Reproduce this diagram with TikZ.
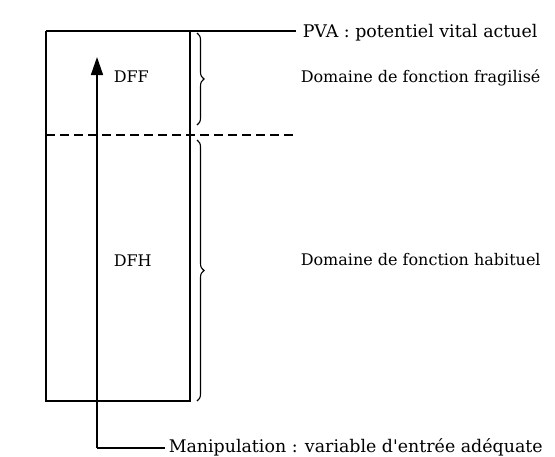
\documentclass[tikz,border=0pt]{standalone}
\usepackage{fontspec}
\setmainfont{DejaVu Serif}
\usetikzlibrary{decorations.pathreplacing,arrows.meta}
\begin{document}
\begin{tikzpicture}[x=1pt,y=-1pt,
  line width=1.5pt,
  lbl/.style={font=\fontsize{17.4}{20}\selectfont, inner sep=0pt, anchor=base west},
  dom/.style={font=\fontsize{16}{19}\selectfont, inner sep=0pt, anchor=base west},
  bracebar/.style={line width=1.1pt, decorate, decoration={brace, amplitude=7pt}},
  sep/.style={line width=1.3pt, dash pattern=on 9pt off 5pt}]
\useasboundingbox (0,0) rectangle (555,456);

% the column: vital potential
\coordinate (tl) at (46,31);
\coordinate (tr) at (190,31);
\coordinate (br) at (190,401);
\coordinate (bl) at (46,401);
\draw (tl) -- (bl) -- (br) -- (tr);

% labels on the right
\node[lbl] (pva) at (302,37) {PVA : potentiel vital actuel};
\node[dom] (dff) at (300,82) {Domaine de fonction fragilisé};
\node[dom] (dfh) at (300,265) {Domaine de fonction habituel};
\node[lbl] (man) at (168,452) {Manipulation : variable d\textquotesingle entrée adéquate};

\node[dom] (ff) at (113,82) {DFF};
\node[dom] (fh) at (113,266) {DFH};

% top line running out to the PVA label
\draw (tl) -- (296,31) coordinate (pvaend);

% boundary between the two domains
\coordinate (dl) at (46,135);
\coordinate (dr) at (296,135);
\draw[sep] (dl) -- (dr);

% braces
\coordinate (b1t) at (197,33);
\coordinate (b1b) at (197,125);
\coordinate (b2t) at (197,140);
\coordinate (b2b) at (197,401);
\draw[bracebar] (b1t) -- (b1b);
\draw[bracebar] (b2t) -- (b2b);

% manipulation arrow
\coordinate (abot) at (97,448);
\coordinate (atip) at (97,57);
\draw[-{Triangle[length=18pt,width=12pt]}] (abot) -- (atip);
\draw (abot) -- (165,448) coordinate (manend);
\end{tikzpicture}
\end{document}
